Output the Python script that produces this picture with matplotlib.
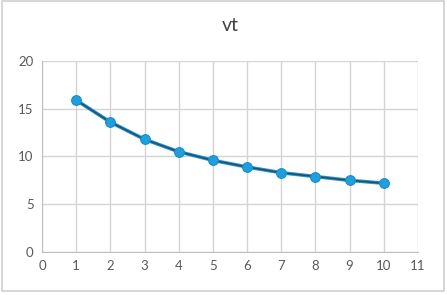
import matplotlib
matplotlib.use('Agg')
from matplotlib import pyplot as plt
from matplotlib.patches import Rectangle

# values
t = [1, 2, 3, 4, 5, 6, 7, 8, 9, 10]
vt = [15.9, 13.6, 11.8, 10.5, 9.6, 8.9, 8.3, 7.9, 7.5, 7.2]
xticks = list(range(0, 12))
yticks = [0, 5, 10, 15, 20]

plt.rcParams['font.family'] = ['Lato', 'DejaVu Sans']

fig = plt.figure(figsize=(4.47, 2.95), dpi=100)
fig.patch.set_facecolor('white')
# light border round the chart area
fig.patches.append(Rectangle((0.004, 0.012), 0.99, 0.985, transform=fig.transFigure,
                             fill=False, edgecolor='#d0d0d0', linewidth=1.2))

ax = fig.add_axes([0.094, 0.146, 0.841, 0.647])
ax.plot(t, vt, color='#1f9bd7', linewidth=2.6, solid_capstyle='round', zorder=3)
ax.plot(t, vt, color='#2a4d6c', linewidth=1.2, zorder=4)
ax.plot(t, vt, linestyle='none', marker='o', markersize=7,
        markerfacecolor='#1f9fdc', markeredgecolor='#1a8cc8', markeredgewidth=0.8, zorder=5)

ax.set_xlim(0, 11)
ax.set_ylim(0, 20)
ax.set_xticks(xticks)
ax.set_yticks(yticks)
ax.grid(True, color='#d4d4d4', linewidth=1.0)
ax.set_axisbelow(True)
for s in ['top', 'right']:
    ax.spines[s].set_visible(False)
ax.spines['left'].set_color('#bfbfbf')
ax.spines['bottom'].set_color('#bfbfbf')
ax.tick_params(length=0, labelsize=9.5, colors='#595959', pad=6)

fig.text(0.515, 0.912, 'vt', ha='center', va='center', fontsize=14, color='#404040')

fig.savefig('out.png', dpi=100)
